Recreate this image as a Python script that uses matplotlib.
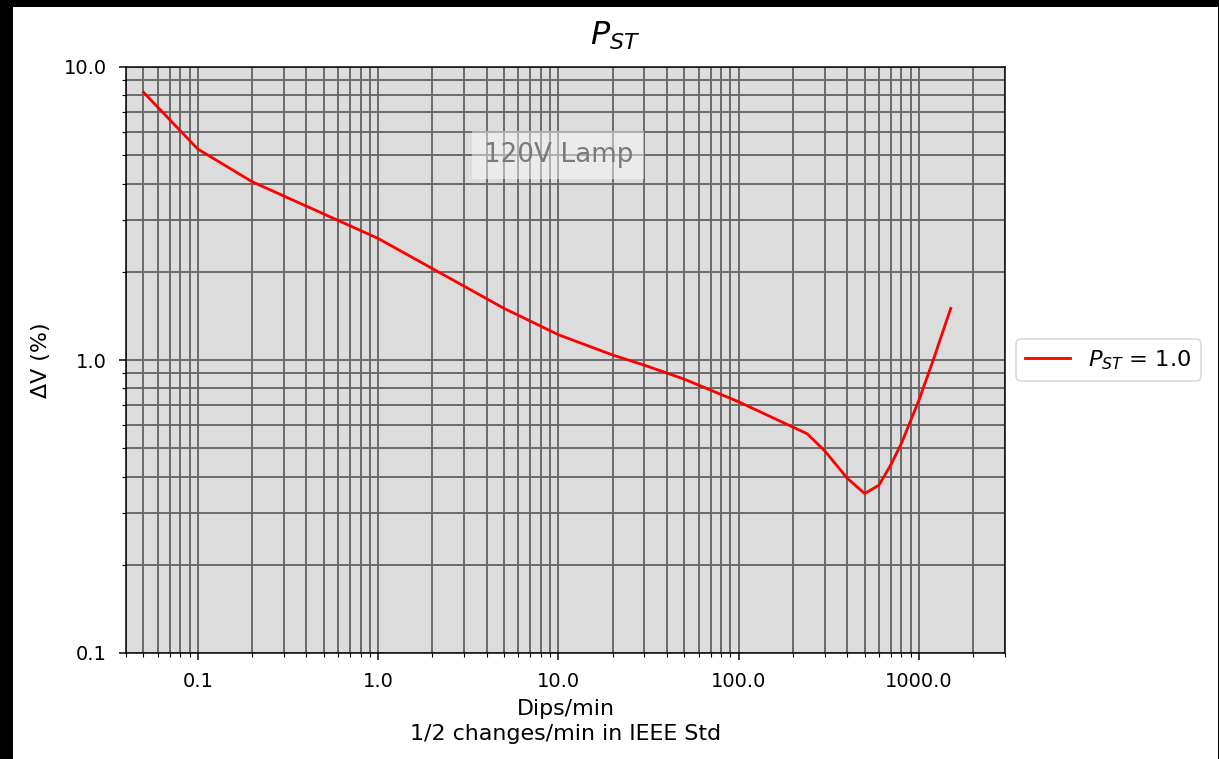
import matplotlib
matplotlib.use("Agg")
import matplotlib.pyplot as plt
from matplotlib.ticker import FormatStrFormatter, NullFormatter
from matplotlib.patches import Rectangle

# Data (dips/min vs. delta V %)
dips_per_min = [0.05, 0.1, 0.2, 1.0, 5.0, 10.0, 20.0, 30.0, 50.0, 100.0,
                240.0, 300.0, 400.0, 500.0, 600.0, 700.0, 800.0, 1000.0, 1200.0, 1500.0]
delta_v = [8.2, 5.25, 4.06, 2.6, 1.5, 1.22, 1.04, 0.96, 0.86, 0.72,
           0.56, 0.49, 0.395, 0.35, 0.374, 0.44, 0.52, 0.73, 1.0, 1.5]
series_label = r"$P_{ST}$ = 1.0"
annotation = "120V Lamp"
x_ticks = [0.1, 1.0, 10.0, 100.0, 1000.0]
y_ticks = [0.1, 1.0, 10.0]

S = 1.35  # scale factor of the reference rendering
W, H = 1219, 759
fig = plt.figure(figsize=(W / 100, H / 100), dpi=100)
fig.patch.set_facecolor("black")
fig.patches.append(Rectangle((13 / W, 0), (1218 - 13) / W, (H - 7) / H,
                             transform=fig.transFigure, facecolor="white",
                             edgecolor="none", zorder=-10))

ax = fig.add_axes([126 / W, 1 - 653 / H, (1005 - 126) / W, (653 - 67) / H])
ax.set_facecolor("#dcdcdc")
ax.plot(dips_per_min, delta_v, color="red", lw=1.5 * S, label=series_label)
ax.set_xscale("log")
ax.set_yscale("log")
ax.set_xlim(0.04, 3000)
ax.set_ylim(0.1, 10)
ax.set_xticks(x_ticks)
ax.set_yticks(y_ticks)
ax.xaxis.set_major_formatter(FormatStrFormatter("%.1f"))
ax.yaxis.set_major_formatter(FormatStrFormatter("%.1f"))
ax.xaxis.set_minor_formatter(NullFormatter())
ax.yaxis.set_minor_formatter(NullFormatter())
ax.tick_params(which="major", length=3.5 * S, width=0.8 * S, labelsize=14, pad=9)
ax.tick_params(which="minor", length=2 * S, width=0.6 * S)
for sp in ax.spines.values():
    sp.set_linewidth(0.8 * S)
ax.grid(True, which="both", color="#666666", lw=1.0 * S)
ax.set_axisbelow(True)

ax.text(10, 5.0, annotation, ha="center", va="center", fontsize=14 * S, color="#7a7a7a",
        bbox=dict(facecolor="white", alpha=0.45, edgecolor="none", pad=6 * S))

ax.set_xlabel("Dips/min\n1/2 changes/min in IEEE Std", fontsize=11.8 * S,
              labelpad=6, linespacing=1.3)
ax.set_ylabel("ΔV (%)", fontsize=11.8 * S, labelpad=9)
fig.suptitle(r"$P_{ST}$", x=615 / W, y=1 - 20 / H, va="top", fontsize=17 * S)
leg = ax.legend(loc="center left", bbox_to_anchor=(1.0, 0.5), fontsize=12 * S)
leg.get_frame().set_linewidth(0.8 * S)

fig.savefig("out.png", dpi=100, facecolor=fig.get_facecolor())
